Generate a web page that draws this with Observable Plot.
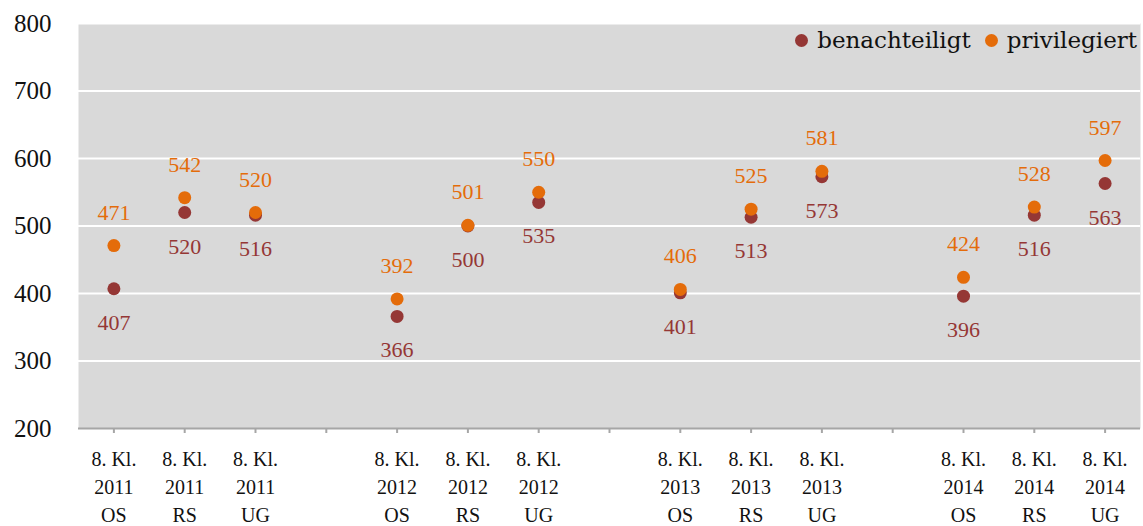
<!DOCTYPE html>
<html><head><meta charset="utf-8">
<script src="https://cdn.jsdelivr.net/npm/d3@7"></script>
<script src="https://cdn.jsdelivr.net/npm/@observablehq/plot@0.6"></script>
<style>
body{margin:0;background:#fff;}
#wrap{position:relative;width:1143px;height:526px;font-family:'Liberation Serif',serif;}
#wrap svg text{font-family:'Liberation Serif',serif;}
#legend{position:absolute;top:27px;right:6px;font-size:23px;font-family:'DejaVu Serif',serif;color:#111;display:flex;align-items:center;}
#legend span.dot{display:inline-block;width:13px;height:13px;border-radius:50%;margin:0 9px 0 14px;}
</style></head>
<body><div id="wrap"><div id="legend"></div></div>
<script>
const categories = ["2011 OS","2011 RS","2011 UG","gap1","2012 OS","2012 RS","2012 UG","gap2","2013 OS","2013 RS","2013 UG","gap3","2014 OS","2014 RS","2014 UG"];
const tickLabels = ["8. Kl.\n2011\nOS","8. Kl.\n2011\nRS","8. Kl.\n2011\nUG","","8. Kl.\n2012\nOS","8. Kl.\n2012\nRS","8. Kl.\n2012\nUG","","8. Kl.\n2013\nOS","8. Kl.\n2013\nRS","8. Kl.\n2013\nUG","","8. Kl.\n2014\nOS","8. Kl.\n2014\nRS","8. Kl.\n2014\nUG"];
const dataCategories = ["2011 OS","2011 RS","2011 UG","2012 OS","2012 RS","2012 UG","2013 OS","2013 RS","2013 UG","2014 OS","2014 RS","2014 UG"];
const benachteiligt = [407,520,516,366,500,535,401,513,573,396,516,563];
const privilegiert = [471,542,520,392,501,550,406,525,581,424,528,597];
const seriesNames = ["benachteiligt","privilegiert"];
const seriesColors = ["#953735","#E46C0A"];
const yTicks = [200,300,400,500,600,700,800];

const ben = dataCategories.map((c,i)=>({cat:c, v:benachteiligt[i]}));
const priv = dataCategories.map((c,i)=>({cat:c, v:privilegiert[i]}));
const labelMap = new Map(categories.map((c,i)=>[c,tickLabels[i]]));

const chart = Plot.plot({
  width:1143, height:526,
  marginLeft:78, marginRight:3, marginTop:23, marginBottom:98,
  style:{background:"#fff"},
  x:{type:"band", domain:categories, padding:0, round:false, axis:null, label:null},
  y:{domain:[200,800], axis:null, label:null},
  marks:[
    Plot.frame({fill:"#d9d9d9", stroke:null}),
    Plot.gridY(yTicks.filter(d=>d>200), {stroke:"#fff", strokeOpacity:1, strokeWidth:2}),
    Plot.ruleY([200], {stroke:"#a6a6a6", strokeWidth:2}),
    Plot.axisX({tickSize:5, stroke:"#a6a6a6", strokeWidth:2, tickPadding:12, fontSize:20, lineHeight:1.42, fill:"#111", label:null, tickFormat:d=>labelMap.get(d)}),
    Plot.axisY({ticks:yTicks, tickSize:0, tickPadding:27, fontSize:25, fill:"#111", label:null, tickFormat:d=>String(d)}),
    Plot.dot(ben, {x:"cat", y:"v", r:6.5, fill:seriesColors[0]}),
    Plot.dot(priv, {x:"cat", y:"v", r:6.5, fill:seriesColors[1]}),
    Plot.text(ben, {x:"cat", y:"v", text:d=>String(d.v), dy:34, fontSize:22, fill:seriesColors[0]}),
    Plot.text(priv, {x:"cat", y:"v", text:d=>String(d.v), dy:-33, fontSize:22, fill:seriesColors[1]})
  ]
});
document.getElementById("wrap").prepend(chart);
const lg = document.getElementById("legend");
seriesNames.forEach((n,i)=>{
  const s=document.createElement("span"); s.className="dot"; s.style.background=seriesColors[i];
  const t=document.createElement("span"); t.textContent=n;
  lg.appendChild(s); lg.appendChild(t);
});
</script></body></html>
